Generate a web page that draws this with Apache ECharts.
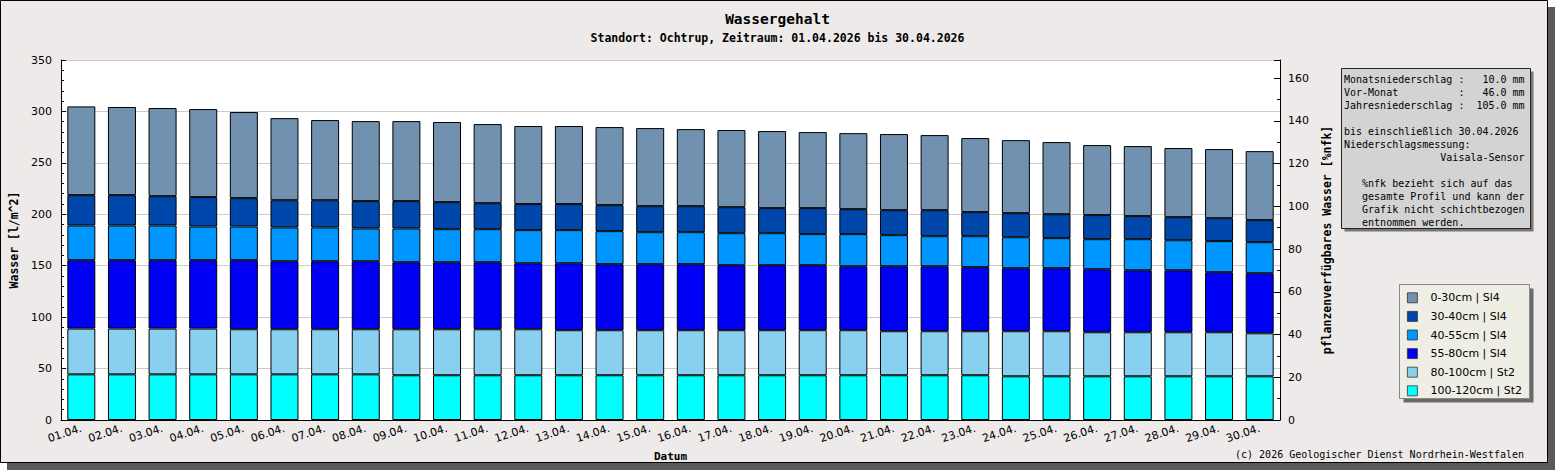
<!DOCTYPE html>
<html>
<head>
<meta charset="utf-8">
<script src="https://cdn.jsdelivr.net/npm/echarts@6/dist/echarts.min.js"></script>
<style>
  html, body { margin: 0; padding: 0; background: #fff; }
  #chart { width: 1555px; height: 470px; }
</style>
</head>
<body>
<div id="chart"></div>
<script>
// ─── Daten (l/m²) ────────────────────────────────────────
const days = ['01.04.', '02.04.', '03.04.', '04.04.', '05.04.', '06.04.', '07.04.', '08.04.', '09.04.', '10.04.',
  '11.04.', '12.04.', '13.04.', '14.04.', '15.04.', '16.04.', '17.04.', '18.04.', '19.04.', '20.04.',
  '21.04.', '22.04.', '23.04.', '24.04.', '25.04.', '26.04.', '27.04.', '28.04.', '29.04.', '30.04.'];

const layer100_120 = [44.4, 44.4, 44.4, 44.4, 44.4, 44.4, 44.4, 44.4, 43.5, 43.5,
  43.5, 43.5, 43.5, 43.5, 43.5, 43.5, 43.5, 43.5, 43.5, 43.5,
  43.5, 43.5, 43.5, 42.5, 42.5, 42.5, 42.5, 42.5, 42.5, 42.5];
const layer80_100 = [44.5, 44.5, 44.5, 44.5, 43.8, 43.8, 43.8, 43.8, 44.7, 44.7,
  44.7, 44.7, 43.8, 43.8, 43.8, 43.8, 43.8, 43.8, 43.8, 43.8,
  42.8, 42.8, 42.8, 43.8, 43.8, 42.8, 42.8, 42.8, 42.8, 41.8];
const layer55_80 = [66.5, 66.5, 66.5, 66.5, 67.2, 66.2, 66.2, 66.2, 65.2, 65.2,
  65.2, 64.2, 65.1, 64.2, 64.2, 64.2, 63.2, 63.2, 63.2, 62.2,
  63.2, 63.2, 62.3, 61.3, 61.3, 61.3, 60.3, 60.3, 58.4, 58.4];
const layer40_55 = [33.7, 33.7, 33.7, 32.7, 32.7, 32.8, 32.8, 31.8, 32.8, 32.1,
  32.1, 32.2, 32.2, 32.1, 31.1, 31.1, 31.1, 31.1, 30.2, 31.2,
  30.2, 29.2, 30.1, 30.1, 29.2, 29.2, 30.2, 29.2, 30.2, 30.2];
const layer30_40 = [29.5, 29.5, 28.5, 28.6, 27.6, 26.5, 26.5, 26.6, 26.6, 26.3,
  25.3, 25.3, 25.3, 25.3, 25.3, 25.3, 25.3, 24.4, 25.3, 24.3,
  24.3, 25.3, 23.4, 23.4, 23.3, 23.4, 22.4, 22.4, 22.3, 21.4];
const layer0_30 = [86.3, 85.7, 85.7, 85.6, 83.7, 79.8, 77.9, 77.8, 77.8, 77.9,
  76.9, 75.9, 75.9, 75.9, 75.9, 74.9, 75.0, 74.9, 73.9, 73.9,
  74.0, 73.0, 72.0, 71.0, 70.1, 68.1, 68.1, 67.2, 67.2, 67.1];

// Reihenfolge von unten nach oben
const layers = [
  { name: '100-120cm | St2', data: layer100_120, color: '#00FFFF' },
  { name: '80-100cm | St2', data: layer80_100, color: '#89CFF0' },
  { name: '55-80cm | Sl4', data: layer55_80, color: '#0000F5' },
  { name: '40-55cm | Sl4', data: layer40_55, color: '#0096FF' },
  { name: '30-40cm | Sl4', data: layer30_40, color: '#0047AB' },
  { name: '0-30cm | Sl4', data: layer0_30, color: '#7091B0' }
];

const infoLines = [
  'Monatsniederschlag :   10.0 mm',
  'Vor-Monat          :   46.0 mm',
  'Jahresniederschlag :  105.0 mm',
  '',
  'bis einschließlich 30.04.2026',
  'Niederschlagsmessung:',
  '                Vaisala-Sensor',
  '',
  '   %nfk bezieht sich auf das',
  '   gesamte Profil und kann der',
  '   Grafik nicht schichtbezogen',
  '   entnommen werden.'
];

const MONO = '"DejaVu Sans Mono", monospace';
const SANS = '"DejaVu Sans", sans-serif';

const chart = echarts.init(document.getElementById('chart'), null, { renderer: 'svg' });

chart.setOption({
  animation: false,
  backgroundColor: 'transparent',
  title: {
    text: 'Wassergehalt',
    subtext: 'Standort: Ochtrup, Zeitraum: 01.04.2026 bis 30.04.2026',
    left: 'center',
    top: 6,
    itemGap: 6,
    textStyle: { fontFamily: MONO, fontSize: 14.5, fontWeight: 'bold', color: '#000' },
    subtextStyle: { fontFamily: MONO, fontSize: 11.5, fontWeight: 'bold', color: '#000' }
  },
  legend: {
    orient: 'vertical',
    left: 1407,
    top: 292.3,
    padding: 0,
    itemWidth: 10,
    itemHeight: 10,
    itemGap: 7.6,
    icon: 'rect',
    data: layers.map(l => l.name).reverse(),
    itemStyle: { borderColor: '#333', borderWidth: 0.8 },
    textStyle: { fontFamily: SANS, fontSize: 11, color: '#000', padding: [0, 0, 0, 8] },
    selectedMode: false
  },
  grid: {
    left: 61,
    right: 275,
    top: 60,
    bottom: 50,
    outerBoundsMode: 'none',
    show: true,
    backgroundColor: '#fff',
    borderWidth: 0
  },
  xAxis: {
    type: 'category',
    data: days,
    name: 'Datum',
    nameLocation: 'middle',
    nameGap: 31,
    nameTextStyle: { fontFamily: MONO, fontSize: 11, fontWeight: 'bold', color: '#000' },
    axisLine: { lineStyle: { color: '#000' } },
    axisTick: { inside: true, length: 5, lineStyle: { color: '#000' } },
    axisLabel: { interval: 0, rotate: 18, margin: 8, fontFamily: SANS, fontSize: 11, color: '#000' }
  },
  yAxis: [
    {
      type: 'value',
      min: 0,
      max: 350,
      interval: 50,
      name: 'Wasser [l/m^2]',
      nameLocation: 'middle',
      nameRotate: 90,
      nameGap: 40,
      nameTextStyle: { fontFamily: MONO, fontSize: 11.5, fontWeight: 'bold', color: '#000' },
      axisLine: { show: true, lineStyle: { color: '#000' } },
      axisTick: { show: true, inside: true, length: 5, lineStyle: { color: '#000' } },
      minorTick: { show: true, splitNumber: 5, length: 3, lineStyle: { color: '#000' } },
      axisLabel: { margin: 9, fontFamily: SANS, fontSize: 11, color: '#000' },
      splitLine: { show: true, lineStyle: { color: '#cccccc' } }
    },
    {
      type: 'value',
      position: 'right',
      min: 0,
      max: 168.5,
      interval: 20,
      name: 'pflanzenverfügbares Wasser [%nfk]',
      nameLocation: 'middle',
      nameRotate: 90,
      nameGap: 41,
      nameTextStyle: { fontFamily: MONO, fontSize: 11.5, fontWeight: 'bold', color: '#000' },
      axisLine: { show: true, lineStyle: { color: '#000' } },
      axisTick: { show: true, inside: true, length: 6, lineStyle: { color: '#000' } },
      minorTick: { show: true, splitNumber: 2, length: 3, lineStyle: { color: '#000' } },
      axisLabel: { margin: 8, fontFamily: SANS, fontSize: 11, color: '#000', showMaxLabel: false },
      splitLine: { show: false }
    }
  ],
  series: layers.map(l => ({
    name: l.name,
    type: 'bar',
    stack: 'wasser',
    data: l.data,
    barWidth: 28,
    itemStyle: { color: l.color, borderColor: '#000', borderWidth: 1 },
    emphasis: { disabled: true }
  })),
  graphic: [
    // Rahmen mit Schatten
    { type: 'rect', z: -100, shape: { x: 7, y: 7, width: 1548, height: 463 }, style: { fill: '#5a5a5a' } },
    { type: 'rect', z: -99, shape: { x: 0.5, y: 0.5, width: 1547, height: 462 }, style: { fill: '#EDEAE9', stroke: '#000', lineWidth: 1 } },
    // Legendenkasten
    { type: 'rect', z: -98, shape: { x: 1403.5, y: 288.5, width: 130, height: 114 }, style: { fill: '#6a6a6a' } },
    { type: 'rect', z: -97, shape: { x: 1399.5, y: 284.5, width: 130, height: 114 }, style: { fill: '#EEEEE4', stroke: '#888', lineWidth: 1 } },
    // Infokasten
    { type: 'rect', z: 10, shape: { x: 1344.5, y: 71.5, width: 189, height: 160 }, style: { fill: '#777' } },
    { type: 'rect', z: 11, shape: { x: 1341.5, y: 68.5, width: 189, height: 160 }, style: { fill: '#D3D3D3', stroke: '#222', lineWidth: 1 } },
    {
      type: 'text', z: 12, left: 1344, top: 72.8,
      style: { text: infoLines.join('\n'), font: '10px ' + MONO, lineHeight: 13, fill: '#000' }
    },
    // Copyright
    {
      type: 'text', z: 12, right: 31, top: 449,
      style: { text: '(c) 2026 Geologischer Dienst Nordrhein-Westfalen', font: '10px ' + MONO, fill: '#000' }
    }
  ]
});
</script>
</body>
</html>
